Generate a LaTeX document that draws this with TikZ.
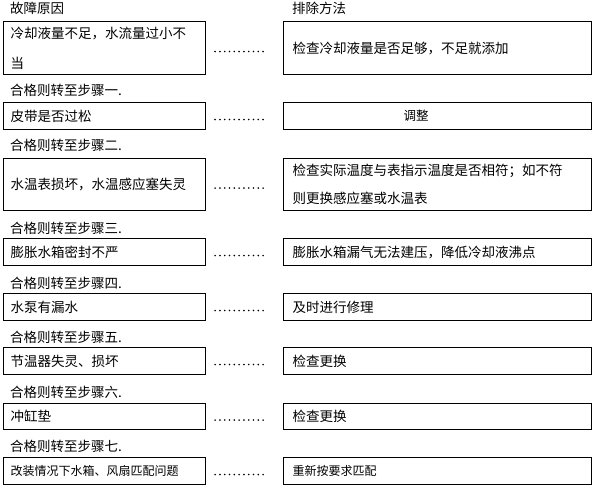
\documentclass[tikz,border=0pt]{standalone}
\usepackage{fontspec}
\setmainfont{Noto Sans CJK SC}
\usepackage{tikz}

\begin{document}
\begin{tikzpicture}[x=1pt,y=-1pt,
cause/.style={draw,line width=1.1pt,anchor=north west,minimum width=202pt,text width=188pt,inner xsep=7pt,align=left,font=\fontsize{13.5}{16}\selectfont},
fix/.style={cause,minimum width=308pt,text width=290pt,inner xsep=9pt},
head/.style={anchor=west,inner sep=0pt,font=\fontsize{13.5}{16}\selectfont},
dotrow/.style={line width=1.8pt,line cap=round,dash pattern=on 0pt off 4.8pt,shorten <=9pt,shorten >=16pt}]
\useasboundingbox(0,0)rectangle(595,489);
\node[head](H1)at(10,8){故障原因};
\node[head](H2)at(292,8){排除方法};
%%
\node[cause,minimum height=53pt](L1)at(3,21){冷却液量不足，水流量过小不\\[14pt]当};
\node[fix,minimum height=53pt](R1)at(283,21){检查冷却液量是否足够，不足就添加};
\node[cause,minimum height=27pt](L2)at(3,102){皮带是否过松};
\node[fix,minimum height=27pt](R2)at(283,102){\hspace*{111pt}\fontsize{12.5}{15}\selectfont 调整};
\node[cause,minimum height=52pt](L3)at(3,158){水温表损坏，水温感应塞失灵};
\node[fix,minimum height=52pt](R3)at(283,158){检查实际温度与表指示温度是否相符；如不符\\[12pt]则更换感应塞或水温表};
\node[cause,minimum height=27pt](L4)at(3,238){膨胀水箱密封不严};
\node[fix,minimum height=27pt](R4)at(283,238){膨胀水箱漏气无法建压，降低冷却液沸点};
\node[cause,minimum height=27pt](L5)at(3,293){水泵有漏水};
\node[fix,minimum height=27pt](R5)at(283,293){及时进行修理};
\node[cause,minimum height=27pt](L6)at(3,347){节温器失灵、损坏};
\node[fix,minimum height=27pt](R6)at(283,347){检查更换};
\node[cause,minimum height=26pt](L7)at(3,403){冲缸垫};
\node[fix,minimum height=26pt](R7)at(283,403){检查更换};
\node[cause,minimum height=27pt,font=\fontsize{12}{14}\selectfont](L8)at(3,457){改装情况下水箱、风扇匹配问题};
\node[fix,minimum height=27pt,font=\fontsize{12}{14}\selectfont](R8)at(283,457){重新按要求匹配};
%%
\foreach \y/\n [count=\i] in {90/一,145/二,228/三,283/四,337/五,392/六,446/七}
\node[head](S\i)at(10,\y){合格则转至步骤\n.};
\foreach \i in {1,...,8}
\draw[dotrow]([yshift=-3.5pt]L\i.east)--([yshift=-3.5pt]R\i.west);
\end{tikzpicture}
\end{document}
